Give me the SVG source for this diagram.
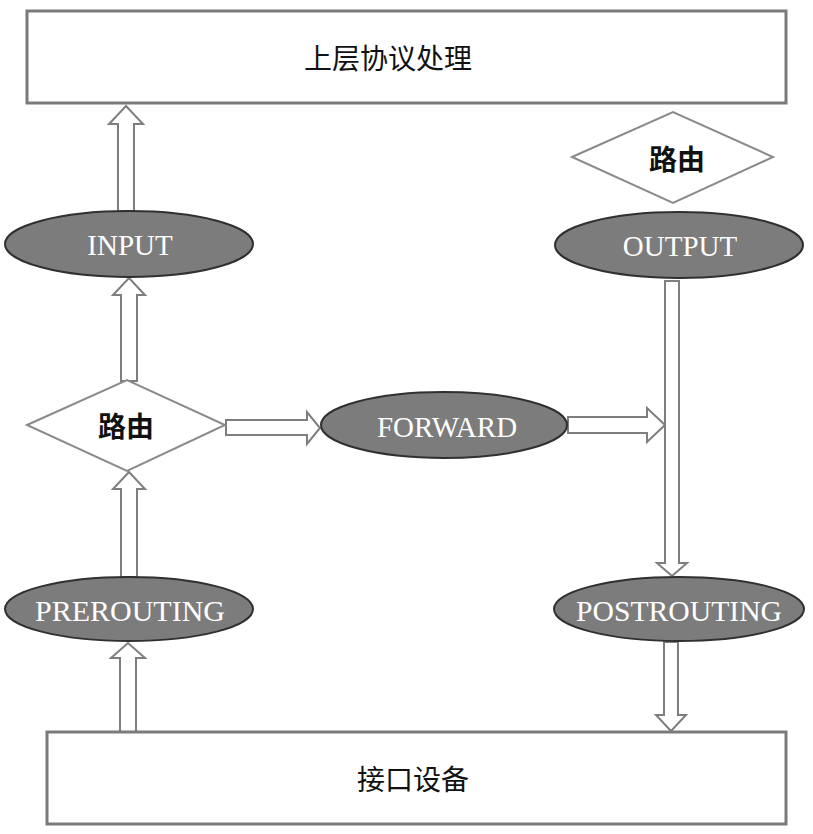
<svg xmlns="http://www.w3.org/2000/svg" width="813" height="834" viewBox="0 0 813 834">
  <style>
    .box { fill: #ffffff; stroke: #7a7a7a; stroke-width: 3; }
    .diamond { fill: #ffffff; stroke: #8a8a8a; stroke-width: 2; }
    .hook { fill: #7c7c7c; stroke: #303030; stroke-width: 2; }
    .arrow { fill: #ffffff; stroke: #7e7e7e; stroke-width: 2; stroke-linejoin: miter; }
    .cn { font-family: "Liberation Serif", "Noto Sans CJK SC", serif; font-size: 28px; fill: #111111; text-anchor: middle; dominant-baseline: central; }
    .route { font-weight: bold; }
    .hk { font-family: "Liberation Serif", "Times New Roman", serif; font-size: 29px; fill: #ffffff; text-anchor: middle; dominant-baseline: central; }
  </style>
  <rect width="813" height="834" fill="#ffffff"/>

  <!-- hollow block arrows between stages -->
  <g id="connectors">
    <polygon class="arrow" points="118,211 118,124 109,124 126,106 143,124 134,124 134,211"/>
    <polygon class="arrow" points="121,381 121,295 113,295 129,278 145,295 137,295 137,381"/>
    <polygon class="arrow" points="121,577 121,489 113,489 129,472 145,489 137,489 137,577"/>
    <polygon class="arrow" points="120,732 120,658 111,658 128,643 145,658 136,658 136,732"/>
    <polygon class="arrow" points="226,420 307,420 307,412 320,428 307,444 307,435 226,435"/>
    <polygon class="arrow" points="568,417 647,417 647,408 665,425 647,442 647,433 568,433"/>
    <polygon class="arrow" points="665,281 665,563 657,563 672,576 687,563 679,563 679,281"/>
    <polygon class="arrow" points="664,642 664,715 656,715 671,731 686,715 678,715 678,642"/>
  </g>

  <g id="upper-layer">
    <rect class="box" x="27" y="11" width="759" height="92"/>
    <text class="cn" x="388" y="59">上层协议处理</text>
  </g>

  <g id="input">
    <ellipse class="hook" cx="129" cy="244" rx="124" ry="33"/>
    <text class="hk" x="130" y="245">INPUT</text>
  </g>

  <g id="route-in">
    <polygon class="diamond" points="27,425 127,380 225,425 127,471"/>
    <text class="cn route" x="126" y="427">路由</text>
  </g>

  <g id="forward">
    <ellipse class="hook" cx="444" cy="425" rx="123" ry="33"/>
    <text class="hk" x="447" y="427">FORWARD</text>
  </g>

  <g id="prerouting">
    <ellipse class="hook" cx="129" cy="609" rx="124" ry="32"/>
    <text class="hk" x="130" y="611" textLength="190" lengthAdjust="spacingAndGlyphs">PREROUTING</text>
  </g>

  <g id="route-out">
    <polygon class="diamond" points="572,157 673,112 773,157 673,203"/>
    <text class="cn route" x="677" y="160">路由</text>
  </g>

  <g id="output">
    <ellipse class="hook" cx="679" cy="245" rx="124" ry="33"/>
    <text class="hk" x="680" y="246">OUTPUT</text>
  </g>

  <g id="postrouting">
    <ellipse class="hook" cx="679" cy="609" rx="125" ry="32"/>
    <text class="hk" x="679" y="611" textLength="206" lengthAdjust="spacingAndGlyphs">POSTROUTING</text>
  </g>

  <g id="interface">
    <rect class="box" x="47" y="732" width="739" height="92"/>
    <text class="cn" x="413" y="780">接口设备</text>
  </g>
</svg>
